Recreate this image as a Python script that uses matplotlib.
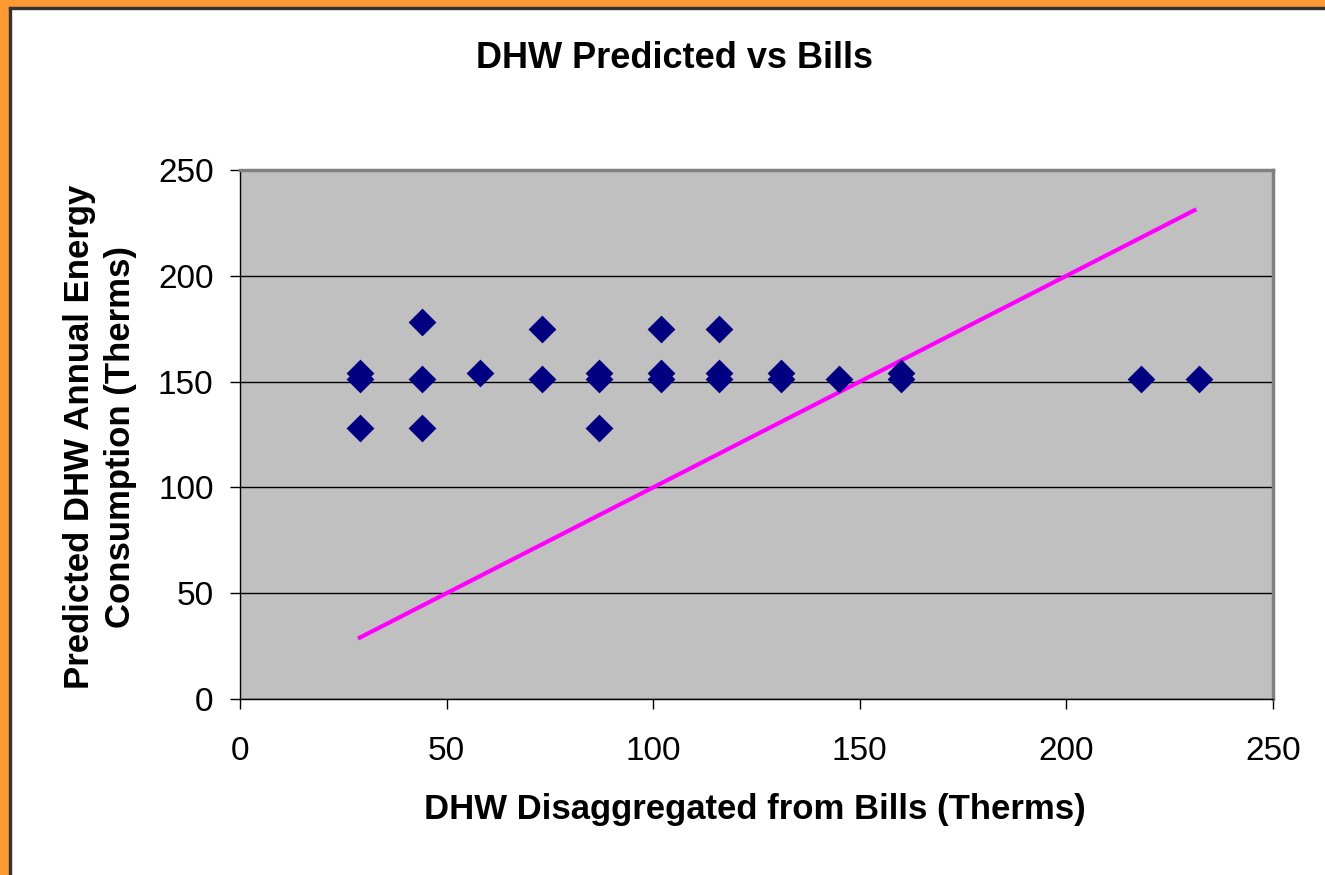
import matplotlib.pyplot as plt
from matplotlib.patches import Rectangle

plt.rcParams['font.family'] = ['Liberation Sans', 'DejaVu Sans']

# -------- data --------
bills_x = [29, 29, 29, 44, 44, 44, 58, 73, 73, 87, 87, 87,
           102, 102, 102, 116, 116, 116, 131, 131, 145, 160, 160, 218, 232]
predicted_y = [154, 151, 128, 178, 151, 128, 154, 175, 151, 154, 151, 128,
               175, 154, 151, 175, 154, 151, 154, 151, 151, 154, 151, 151, 151]
line_x = [29, 231]
line_y = [29, 231]

fig = plt.figure(figsize=(13.25, 8.75), dpi=100)
ax = fig.add_axes([240 / 1325, 1 - 699 / 875, (1273 - 240) / 1325, (699 - 170) / 875])

ax.set_facecolor('#C0C0C0')
ax.plot(line_x, line_y, color='#FF00FF', lw=3, zorder=2)
ax.scatter(bills_x, predicted_y, marker='D', s=200, color='#000080', zorder=3, linewidths=0)

ax.set_xlim(0, 250)
ax.set_ylim(0, 250)
ax.set_xticks([0, 50, 100, 150, 200, 250])
ax.set_yticks([0, 50, 100, 150, 200, 250])
ax.yaxis.grid(True, color='black', lw=1)
ax.set_axisbelow(True)
ax.tick_params(labelsize=24, length=7, width=1, direction='out')
ax.tick_params(axis='x', pad=20)
ax.tick_params(axis='y', pad=12)

for s in ['top', 'right']:
    ax.spines[s].set_color('#808080')
    ax.spines[s].set_linewidth(2.5)
for s in ['left', 'bottom']:
    ax.spines[s].set_color('black')
    ax.spines[s].set_linewidth(1)

fig.text(674 / 1325, 1 - 58 / 875, 'DHW Predicted vs Bills', ha='center', va='center',
         fontsize=26, fontweight='bold')
fig.text(755 / 1325, 1 - 810 / 875, 'DHW Disaggregated from Bills (Therms)', ha='center',
         va='center', fontsize=25, fontweight='bold')
fig.text(100 / 1325, 1 - 437 / 875, 'Predicted DHW Annual Energy\nConsumption (Therms)',
         ha='center', va='center', rotation=90, fontsize=25, fontweight='bold',
         linespacing=1.3)

# orange frame on top and left
fig.patches.append(Rectangle((0, 0), 9 / 1325, 1, transform=fig.transFigure,
                             color='#FF9933', zorder=0))
fig.patches.append(Rectangle((0, 1 - 7 / 875), 1, 7 / 875, transform=fig.transFigure,
                             color='#FF9933', zorder=0))
fig.patches.append(Rectangle((9 / 1325, 0), 2 / 1325, 1 - 7 / 875, transform=fig.transFigure,
                             color='#333333', zorder=0))
fig.patches.append(Rectangle((9 / 1325, 1 - 9 / 875), 1, 2 / 875, transform=fig.transFigure,
                             color='#333333', zorder=0))

fig.savefig('out.png', dpi=100)
